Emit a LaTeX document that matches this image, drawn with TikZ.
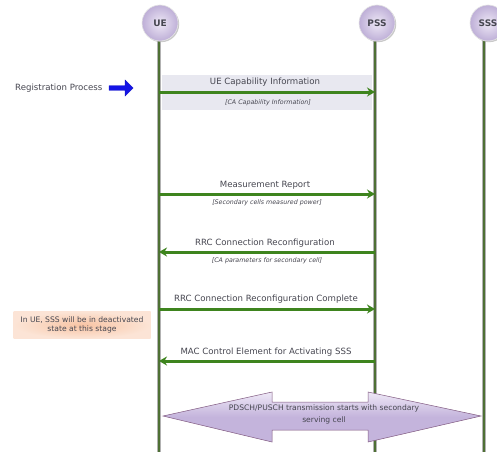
\documentclass[tikz,border=0pt]{standalone}
\usepackage{fontspec}
\setmainfont{DejaVu Sans}
\usetikzlibrary{arrows.meta,shapes.arrows,shadows}
\definecolor{lifegreen}{RGB}{78,112,52}
\definecolor{msggreen}{RGB}{62,132,30}
\definecolor{bandgray}{RGB}{232,232,240}
\definecolor{lav}{RGB}{190,175,215}
\definecolor{lavlight}{RGB}{238,232,246}
\definecolor{txtgray}{RGB}{70,70,80}
\definecolor{peach}{RGB}{248,196,164}
\definecolor{bigpurple}{RGB}{196,180,220}
\tikzset{
  actor/.style={circle, minimum size=36pt, inner sep=0pt, draw=white!80!gray, line width=0.6pt,
    inner color=lavlight, outer color=lav, text=txtgray, font=\fontsize{9}{10}\selectfont\bfseries,
    drop shadow={shadow xshift=1.2pt, shadow yshift=-1.2pt, fill=gray!70, opacity=0.6}},
  lifeline/.style={draw=gray!60, line width=4pt},
  lifecore/.style={draw=lifegreen, line width=2.4pt},
  msg/.style={draw=msggreen, line width=3pt, -{Stealth[length=8pt,width=9pt]}},
  lbl/.style={text=txtgray, font=\fontsize{8.6}{10}\selectfont, inner sep=1pt},
  sub/.style={text=txtgray, font=\fontsize{6.3}{7}\selectfont\itshape, inner sep=1pt},
}
\begin{document}
\begin{tikzpicture}[x=1pt,y=-1pt]
\useasboundingbox (0,0) rectangle (497,452);
\fill[white] (0,0) rectangle (497,452);
% band
\fill[bandgray] (162,75) rectangle (372,110);
% lifeline coordinates
\coordinate (ueT) at (159,35); \coordinate (ueB) at (159,452);
\coordinate (psT) at (375,35); \coordinate (psB) at (375,452);
\coordinate (ssT) at (484,35); \coordinate (ssB) at (484,452);
\foreach \a/\b in {ueT/ueB, psT/psB, ssT/ssB}{
  \draw[lifeline] (\a) -- (\b);
  \draw[lifecore] (\a) -- (\b);
}
% actors
\node[actor] (UE) at (160,23) {UE};
\node[actor] (PSS) at (377,23) {PSS};
\node[actor] (SSS) at (488,23) {SSS};
% messages
\coordinate (m1a) at (159,92); \coordinate (m1b) at (375,92);
\draw[msg] (m1a) -- (m1b);
\node[lbl] (l1) at (265,82) {UE Capability Information};
\node[sub] (s1) at (268,103) {[CA Capability Information]};

\coordinate (m2a) at (159,194); \coordinate (m2b) at (375,194);
\draw[msg] (m2a) -- (m2b);
\node[lbl] (l2) at (265,185) {Measurement Report};
\node[sub] (s2) at (267,203) {[Secondary cells measured power]};

\coordinate (m3a) at (159,252); \coordinate (m3b) at (375,252);
\draw[msg] (m3b) -- (m3a);
\node[lbl] (l3) at (265,243) {RRC Connection Reconfiguration};
\node[sub] (s3) at (267,261) {[CA parameters for secondary cell]};

\coordinate (m4a) at (159,309); \coordinate (m4b) at (375,309);
\draw[msg] (m4a) -- (m4b);
\node[lbl] (l4) at (266,299) {RRC Connection Reconfiguration Complete};

\coordinate (m5a) at (159,361); \coordinate (m5b) at (375,361);
\draw[msg] (m5b) -- (m5a);
\node[lbl] (l5) at (266,352) {MAC Control Element for Activating SSS};

% registration
\node[lbl, anchor=west] (reg) at (14,88) {Registration Process};
\node[single arrow, fill={rgb,255:red,20;green,20;blue,230}, draw={rgb,255:red,20;green,20;blue,200},
  minimum height=24pt, minimum width=16pt, single arrow head extend=3pt, inner sep=1pt] (regarr) at (120,88) {};

% note
\node[draw=none, minimum width=137pt, minimum height=27pt, inner sep=1pt,
  inner color=peach, outer color=peach!45, align=center, text=txtgray,
  font=\fontsize{7.6}{9.5}\selectfont] (note) at (82,325) {In UE, SSS will be in deactivated\\state at this stage};

% big double arrow
\path[draw=gray!70!violet, line width=0.5pt, top color=lavlight, bottom color=bigpurple, middle color=bigpurple]
  (163,416) -- (272,392) -- (272,402) -- (368,402) -- (368,392) -- (481,416) -- (368,442) -- (368,430)
  -- (272,430) -- (272,442) -- cycle;
\node[align=center, text=txtgray, font=\fontsize{7.6}{12}\selectfont] (big) at (324,414)
  {PDSCH/PUSCH transmission starts with secondary\\serving cell};
\end{tikzpicture}
\end{document}
